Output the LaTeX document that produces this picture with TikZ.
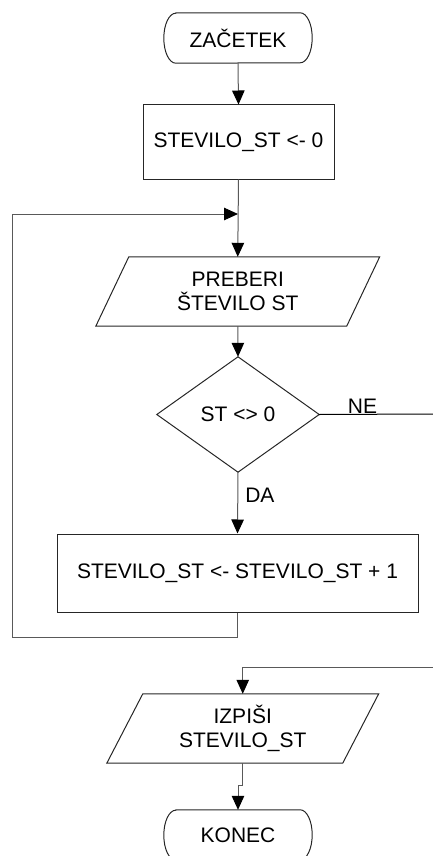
\documentclass[tikz,border=0pt]{standalone}
\usepackage{fontspec}
\setmainfont{Liberation Sans}
\usetikzlibrary{arrows.meta}
\begin{document}
\begin{tikzpicture}[x=1pt,y=-1pt,
  txt/.style={font=\fontsize{21}{24.5}\selectfont, align=center, inner sep=0pt},
  blank/.style={txt, draw=none, rectangle},
  procbox/.style={txt, draw=black!85, line width=1pt, rectangle},
  outline/.style={draw=black!85, line width=1pt, line join=miter},
  conn/.style={draw=black!65, line width=1pt},
  arr/.style={conn, -{Triangle[length=14pt,width=12.5pt,color=black]}},
]
\useasboundingbox (0,0) rectangle (433,856);

% terminal: start
\node[blank, minimum width=148pt, minimum height=50pt] (start) at (238,38) {ZAČETEK};
\draw[outline] ([xshift=12pt]start.north west) -- ([xshift=-12pt]start.north east)
  arc[start angle=90, end angle=-90, x radius=12pt, y radius=25pt]
  -- ([xshift=12pt]start.south west)
  arc[start angle=270, end angle=90, x radius=12pt, y radius=25pt] -- cycle;

% initialisation
\node[procbox, minimum width=191pt, minimum height=74pt] (init) at (238.5,142) {STEVILO\_ST <- 0};

% input
\node[blank, minimum width=250.5pt, minimum height=69pt] (read) at (237.75,291.5) {PREBERI\\ŠTEVILO ST};
\draw[outline] ([xshift=16.5pt]read.north west) -- ([xshift=16.5pt]read.north east)
  -- ([xshift=-16.5pt]read.south east) -- ([xshift=-16.5pt]read.south west) -- cycle;

% decision
\node[blank, minimum width=162pt, minimum height=115pt] (dec) at (238,414.5) {ST <> 0};
\draw[outline] (dec.north) -- (dec.east) -- (dec.south) -- (dec.west) -- cycle;

% increment
\node[procbox, minimum width=361pt, minimum height=78pt] (inc) at (237.5,573) {STEVILO\_ST <- STEVILO\_ST + 1};

% output
\node[blank, minimum width=235.5pt, minimum height=69pt] (out) at (242.75,728.5) {IZPIŠI\\STEVILO\_ST};
\draw[outline] ([xshift=18pt]out.north west) -- ([xshift=18pt]out.north east)
  -- ([xshift=-18pt]out.south east) -- ([xshift=-18pt]out.south west) -- cycle;

% terminal: end
\node[blank, minimum width=148pt, minimum height=50pt] (end) at (238,835) {KONEC};
\draw[outline] ([xshift=12pt]end.north west) -- ([xshift=-12pt]end.north east)
  arc[start angle=90, end angle=-90, x radius=12pt, y radius=25pt]
  -- ([xshift=12pt]end.south west)
  arc[start angle=270, end angle=90, x radius=12pt, y radius=25pt] -- cycle;

% junction points
\coordinate (merge) at (238,214);
\coordinate (loopcorner) at (12,637);
\coordinate (noexit) at (433,414);
\coordinate (noentry) at (433,667);

% connectors
\draw[arr] (start.south) -- (init.north);
\draw[arr] (init.south) -- (read.north);
\draw[arr] (read.south) -- (dec.north);
\draw[arr] (dec.south) -- node[txt, right=7pt, pos=0.37] (da) {DA} (inc.north);
\draw[arr] (inc.south) |- (loopcorner) |- (merge);
\draw[draw=black, line width=1pt] (dec.east) -- node[txt, above=0.5pt, pos=0.38] (ne) {NE} (noexit);
\draw[arr] (noentry) -| (out.north);
\draw[arr] (out.south) -- ++(0,22) -| (end.north);
\end{tikzpicture}
\end{document}
